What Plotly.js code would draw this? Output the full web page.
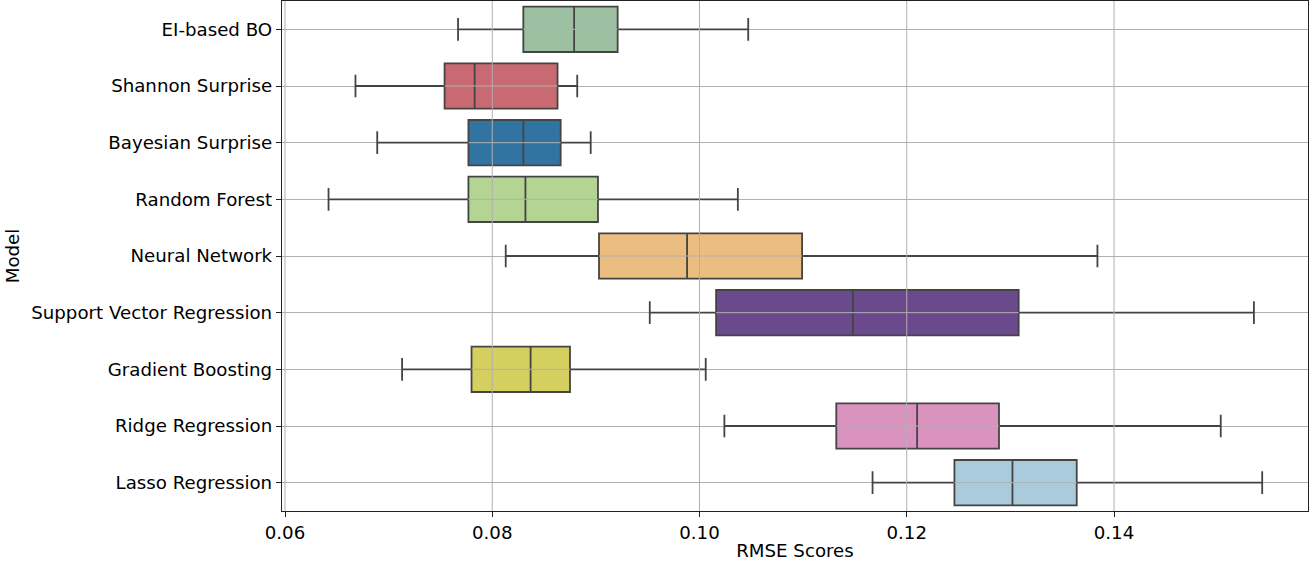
<!DOCTYPE html>
<html><head><meta charset="utf-8">
<script src="https://cdn.plot.ly/plotly-3.0.1.min.js"></script>
<style>html,body{margin:0;padding:0;background:#fff}#chart{width:1316px;height:567px}</style>
</head><body><div id="chart"></div>
<script>
const models = ["EI-based BO","Shannon Surprise","Bayesian Surprise","Random Forest","Neural Network","Support Vector Regression","Gradient Boosting","Ridge Regression","Lasso Regression"];
const lowerWhisker = [0.0767,0.0668,0.0689,0.0642,0.0813,0.0952,0.0713,0.1024,0.1167];
const q1Values     = [0.0830,0.0754,0.0777,0.0777,0.0903,0.1016,0.0780,0.1132,0.1246];
const medianValues = [0.0879,0.0783,0.0830,0.0832,0.0988,0.1148,0.0837,0.1210,0.1302];
const q3Values     = [0.0921,0.0863,0.0866,0.0902,0.1099,0.1308,0.0875,0.1289,0.1364];
const upperWhisker = [0.1047,0.0882,0.0895,0.1037,0.1384,0.1535,0.1006,0.1503,0.1543];
const boxColors = ["#9dbfa2","#c96a73","#3274a1","#b3d493","#ebbd80","#6a4a8d","#d4cf5e","#da93bf","#aacbdc"];
const xTicks = [0.06,0.08,0.10,0.12,0.14];
const xTickLabels = ["0.06","0.08","0.10","0.12","0.14"];

const traces = models.map((m,i)=>({
  type:'box', orientation:'h', name:m,
  y:[m], q1:[q1Values[i]], median:[medianValues[i]], q3:[q3Values[i]],
  lowerfence:[lowerWhisker[i]], upperfence:[upperWhisker[i]],
  fillcolor:boxColors[i], line:{color:'#444444', width:1.8},
  width:0.8, whiskerwidth:0.5, boxpoints:false, hoverinfo:'x+y'
}));

const gridColor = '#b0b0b0';
const shapes = [];
xTicks.forEach(t=>shapes.push({type:'line', xref:'x', yref:'paper', x0:t, x1:t, y0:0, y1:1, line:{color:gridColor, width:1}, layer:'above'}));
// horizontal grid visible through the box body
models.forEach((m,i)=>shapes.push({type:'line', xref:'x', yref:'y', x0:q1Values[i], x1:q3Values[i], y0:m, y1:m, line:{color:gridColor, width:1}, layer:'above'}));

const font = {family:'DejaVu Sans, sans-serif', size:18.2, color:'#000'};
const layout = {
  width:1316, height:567,
  margin:{l:282, r:8, t:1, b:56},
  paper_bgcolor:'#fff', plot_bgcolor:'#fff',
  showlegend:false, font:font, shapes:shapes,
  xaxis:{range:[0.05971,0.15872], tickvals:xTicks, ticktext:xTickLabels, showgrid:false, zeroline:false,
    showline:true, linecolor:'#222', linewidth:1.2, mirror:true, ticks:'outside', ticklen:5, tickcolor:'#222',
    tickfont:font, title:{text:'RMSE Scores', font:font, standoff:2}},
  yaxis:{type:'category', categoryorder:'array', categoryarray:models, range:[8.5,-0.5], showgrid:true, gridcolor:gridColor, gridwidth:1, zeroline:false,
    showline:true, linecolor:'#222', linewidth:1.2, mirror:true, ticks:'outside', ticklen:5, tickcolor:'#222',
    tickfont:font, title:{text:'Model', font:font, standoff:6}}
};
Plotly.newPlot('chart', traces, layout, {displayModeBar:false, staticPlot:true});
</script></body></html>
